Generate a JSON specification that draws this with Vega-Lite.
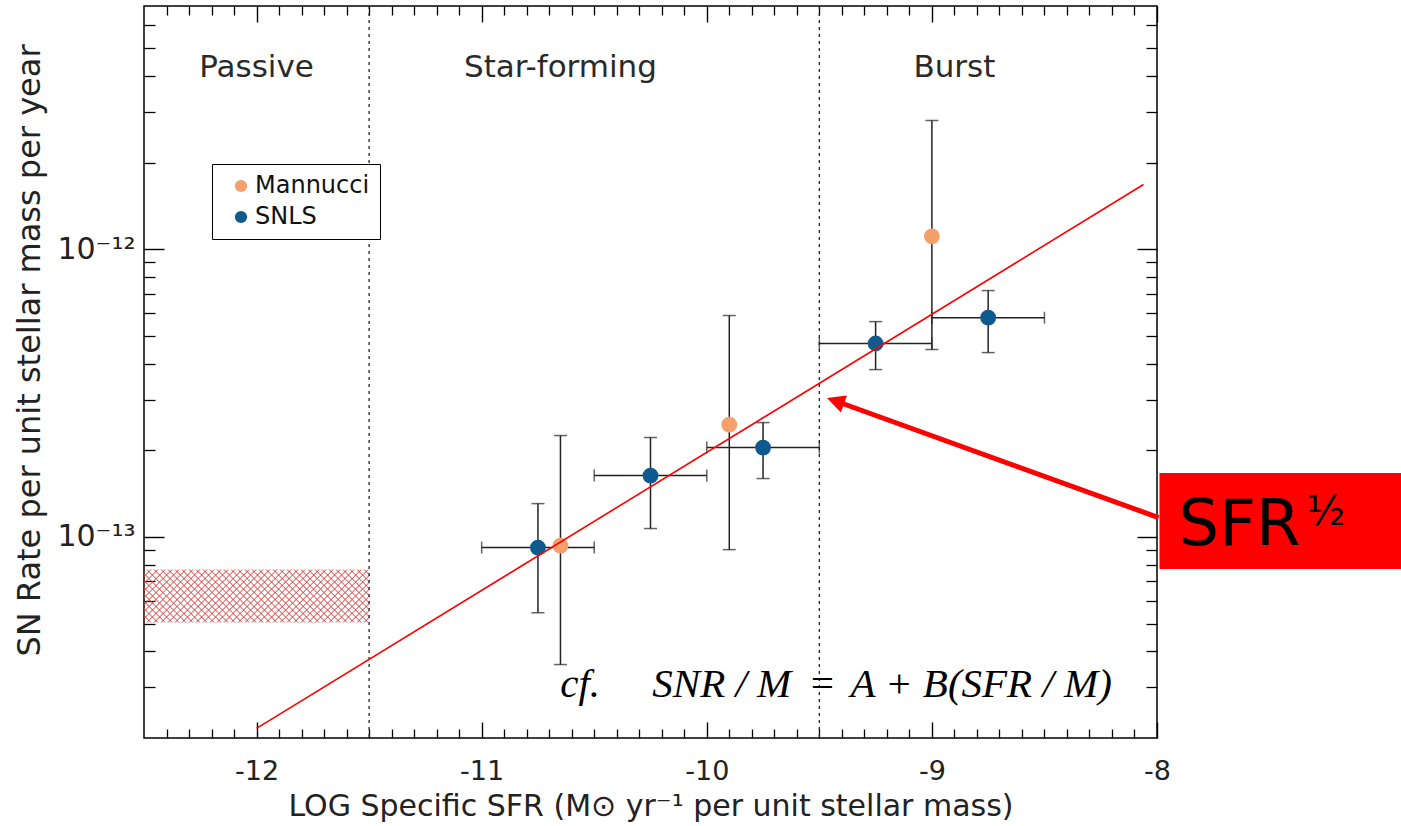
{
  "$schema": "https://vega.github.io/schema/vega-lite/v6.json",
  "width": 1013,
  "height": 732,
  "autosize": {"type": "none"},
  "padding": {"left": 144, "top": 6, "right": 244, "bottom": 88},
  "background": "white",
  "config": {
    "view": {"stroke": "#000", "strokeWidth": 1.5},
    "axis": {"grid": false},
    "font": "DejaVu Sans"
  },
  "datasets": {
    "pts": [
      {"series": "SNLS", "x": -10.75, "y": 9.18e-14, "ylo": 5.45e-14, "yhi": 1.305e-13, "xlo": -11.0, "xhi": -10.5},
      {"series": "SNLS", "x": -10.25, "y": 1.633e-13, "ylo": 1.069e-13, "yhi": 2.215e-13, "xlo": -10.5, "xhi": -10.0},
      {"series": "SNLS", "x": -9.75, "y": 2.044e-13, "ylo": 1.595e-13, "yhi": 2.496e-13, "xlo": -10.0, "xhi": -9.5},
      {"series": "SNLS", "x": -9.25, "y": 4.70e-13, "ylo": 3.815e-13, "yhi": 5.60e-13, "xlo": -9.5, "xhi": -9.0},
      {"series": "SNLS", "x": -8.75, "y": 5.78e-13, "ylo": 4.37e-13, "yhi": 7.18e-13, "xlo": -9.0, "xhi": -8.5},
      {"series": "Mannucci", "x": -10.65, "y": 9.33e-14, "ylo": 3.60e-14, "yhi": 2.25e-13, "xlo": null, "xhi": null},
      {"series": "Mannucci", "x": -9.9, "y": 2.457e-13, "ylo": 9.03e-14, "yhi": 5.88e-13, "xlo": null, "xhi": null},
      {"series": "Mannucci", "x": -9.0, "y": 1.108e-12, "ylo": 4.48e-13, "yhi": 2.80e-12, "xlo": null, "xhi": null}
    ],
    "band": [{"x1": -12.5, "x2": -11.5, "y1": 5.04e-14, "y2": 7.7e-14}]
  },
  "layer": [
    {
      "data": {"name": "band"},
      "mark": {"type": "rect", "fill": {"gradient": "linear", "x1": 0, "y1": 0, "x2": 1.1706, "y2": 0.2757, "stops": [
        {"offset": 0, "color": "#d94848"}, {"offset": 0.004, "color": "rgba(217,72,72,0)"},
        {"offset": 0.021, "color": "rgba(217,72,72,0)"}, {"offset": 0.025, "color": "#d94848"}, {"offset": 0.029, "color": "rgba(217,72,72,0)"},
        {"offset": 0.046, "color": "rgba(217,72,72,0)"}, {"offset": 0.050, "color": "#d94848"}, {"offset": 0.054, "color": "rgba(217,72,72,0)"},
        {"offset": 0.072, "color": "rgba(217,72,72,0)"}, {"offset": 0.076, "color": "#d94848"}, {"offset": 0.080, "color": "rgba(217,72,72,0)"},
        {"offset": 0.097, "color": "rgba(217,72,72,0)"}, {"offset": 0.101, "color": "#d94848"}, {"offset": 0.105, "color": "rgba(217,72,72,0)"},
        {"offset": 0.122, "color": "rgba(217,72,72,0)"}, {"offset": 0.126, "color": "#d94848"}, {"offset": 0.130, "color": "rgba(217,72,72,0)"},
        {"offset": 0.147, "color": "rgba(217,72,72,0)"}, {"offset": 0.151, "color": "#d94848"}, {"offset": 0.155, "color": "rgba(217,72,72,0)"},
        {"offset": 0.172, "color": "rgba(217,72,72,0)"}, {"offset": 0.176, "color": "#d94848"}, {"offset": 0.180, "color": "rgba(217,72,72,0)"},
        {"offset": 0.197, "color": "rgba(217,72,72,0)"}, {"offset": 0.201, "color": "#d94848"}, {"offset": 0.205, "color": "rgba(217,72,72,0)"},
        {"offset": 0.223, "color": "rgba(217,72,72,0)"}, {"offset": 0.227, "color": "#d94848"}, {"offset": 0.231, "color": "rgba(217,72,72,0)"},
        {"offset": 0.248, "color": "rgba(217,72,72,0)"}, {"offset": 0.252, "color": "#d94848"}, {"offset": 0.256, "color": "rgba(217,72,72,0)"},
        {"offset": 0.273, "color": "rgba(217,72,72,0)"}, {"offset": 0.277, "color": "#d94848"}, {"offset": 0.281, "color": "rgba(217,72,72,0)"},
        {"offset": 0.298, "color": "rgba(217,72,72,0)"}, {"offset": 0.302, "color": "#d94848"}, {"offset": 0.306, "color": "rgba(217,72,72,0)"},
        {"offset": 0.323, "color": "rgba(217,72,72,0)"}, {"offset": 0.327, "color": "#d94848"}, {"offset": 0.331, "color": "rgba(217,72,72,0)"},
        {"offset": 0.349, "color": "rgba(217,72,72,0)"}, {"offset": 0.353, "color": "#d94848"}, {"offset": 0.357, "color": "rgba(217,72,72,0)"},
        {"offset": 0.374, "color": "rgba(217,72,72,0)"}, {"offset": 0.378, "color": "#d94848"}, {"offset": 0.382, "color": "rgba(217,72,72,0)"},
        {"offset": 0.399, "color": "rgba(217,72,72,0)"}, {"offset": 0.403, "color": "#d94848"}, {"offset": 0.407, "color": "rgba(217,72,72,0)"},
        {"offset": 0.424, "color": "rgba(217,72,72,0)"}, {"offset": 0.428, "color": "#d94848"}, {"offset": 0.432, "color": "rgba(217,72,72,0)"},
        {"offset": 0.449, "color": "rgba(217,72,72,0)"}, {"offset": 0.453, "color": "#d94848"}, {"offset": 0.457, "color": "rgba(217,72,72,0)"},
        {"offset": 0.474, "color": "rgba(217,72,72,0)"}, {"offset": 0.478, "color": "#d94848"}, {"offset": 0.482, "color": "rgba(217,72,72,0)"},
        {"offset": 0.500, "color": "rgba(217,72,72,0)"}, {"offset": 0.504, "color": "#d94848"}, {"offset": 0.508, "color": "rgba(217,72,72,0)"},
        {"offset": 0.525, "color": "rgba(217,72,72,0)"}, {"offset": 0.529, "color": "#d94848"}, {"offset": 0.533, "color": "rgba(217,72,72,0)"},
        {"offset": 0.550, "color": "rgba(217,72,72,0)"}, {"offset": 0.554, "color": "#d94848"}, {"offset": 0.558, "color": "rgba(217,72,72,0)"},
        {"offset": 0.575, "color": "rgba(217,72,72,0)"}, {"offset": 0.579, "color": "#d94848"}, {"offset": 0.583, "color": "rgba(217,72,72,0)"},
        {"offset": 0.600, "color": "rgba(217,72,72,0)"}, {"offset": 0.604, "color": "#d94848"}, {"offset": 0.608, "color": "rgba(217,72,72,0)"},
        {"offset": 0.626, "color": "rgba(217,72,72,0)"}, {"offset": 0.630, "color": "#d94848"}, {"offset": 0.634, "color": "rgba(217,72,72,0)"},
        {"offset": 0.651, "color": "rgba(217,72,72,0)"}, {"offset": 0.655, "color": "#d94848"}, {"offset": 0.659, "color": "rgba(217,72,72,0)"},
        {"offset": 0.676, "color": "rgba(217,72,72,0)"}, {"offset": 0.680, "color": "#d94848"}, {"offset": 0.684, "color": "rgba(217,72,72,0)"},
        {"offset": 0.701, "color": "rgba(217,72,72,0)"}, {"offset": 0.705, "color": "#d94848"}, {"offset": 0.709, "color": "rgba(217,72,72,0)"},
        {"offset": 0.726, "color": "rgba(217,72,72,0)"}, {"offset": 0.730, "color": "#d94848"}, {"offset": 0.734, "color": "rgba(217,72,72,0)"},
        {"offset": 0.751, "color": "rgba(217,72,72,0)"}, {"offset": 0.755, "color": "#d94848"}, {"offset": 0.759, "color": "rgba(217,72,72,0)"},
        {"offset": 0.777, "color": "rgba(217,72,72,0)"}, {"offset": 0.781, "color": "#d94848"}, {"offset": 0.785, "color": "rgba(217,72,72,0)"},
        {"offset": 0.802, "color": "rgba(217,72,72,0)"}, {"offset": 0.806, "color": "#d94848"}, {"offset": 0.810, "color": "rgba(217,72,72,0)"},
        {"offset": 0.827, "color": "rgba(217,72,72,0)"}, {"offset": 0.831, "color": "#d94848"}, {"offset": 0.835, "color": "rgba(217,72,72,0)"},
        {"offset": 0.852, "color": "rgba(217,72,72,0)"}, {"offset": 0.856, "color": "#d94848"}, {"offset": 0.860, "color": "rgba(217,72,72,0)"},
        {"offset": 0.877, "color": "rgba(217,72,72,0)"}, {"offset": 0.881, "color": "#d94848"}, {"offset": 0.885, "color": "rgba(217,72,72,0)"},
        {"offset": 0.902, "color": "rgba(217,72,72,0)"}, {"offset": 0.906, "color": "#d94848"}, {"offset": 0.910, "color": "rgba(217,72,72,0)"},
        {"offset": 0.928, "color": "rgba(217,72,72,0)"}, {"offset": 0.932, "color": "#d94848"}, {"offset": 0.936, "color": "rgba(217,72,72,0)"},
        {"offset": 0.953, "color": "rgba(217,72,72,0)"}, {"offset": 0.957, "color": "#d94848"}, {"offset": 0.961, "color": "rgba(217,72,72,0)"},
        {"offset": 0.978, "color": "rgba(217,72,72,0)"}, {"offset": 0.982, "color": "#d94848"}, {"offset": 0.986, "color": "rgba(217,72,72,0)"},
        {"offset": 1, "color": "rgba(217,72,72,0)"}
      ]}},
      "encoding": {
        "x": {"field": "x1", "type": "quantitative",
          "scale": {"domain": [-12.5, -8], "nice": false, "zero": false},
          "axis": {"orient": "bottom", "values": [-12, -11, -10, -9, -8], "labelExpr": "'' + datum.value",
            "ticks": false, "domain": false, "grid": false, "labelPadding": 20, "labelFont": "DejaVu Sans",
            "labelFontSize": 27, "labelColor": "#222", "labelFlush": false, "labelOverlap": false,
            "title": "LOG Specific SFR (M⊙ yr⁻¹ per unit stellar mass)", "titleFont": "DejaVu Sans",
            "titleFontSize": 30, "titleFontWeight": "normal", "titleColor": "#222", "titleY": 77,
            "titleBaseline": "alphabetic"}},
        "x2": {"field": "x2"},
        "y": {"field": "y1", "type": "quantitative",
          "scale": {"type": "log", "domain": [2e-14, 7e-12], "nice": false},
          "axis": {"orient": "left", "values": [1e-13, 1e-12],
            "labelExpr": "datum.value < 5e-13 ? '10⁻¹³' : '10⁻¹²'",
            "ticks": false, "domain": false, "grid": false, "labelPadding": 9, "labelFont": "DejaVu Sans",
            "labelFontSize": 30, "labelColor": "#222", "labelOverlap": false,
            "title": "SN Rate per unit stellar mass per year", "titleFont": "DejaVu Sans",
            "titleFontSize": 32, "titleFontWeight": "normal", "titleColor": "#222",
            "titleX": -105, "titleY": 344, "titleAngle": -90, "titleBaseline": "alphabetic", "titleAlign": "center"}},
        "y2": {"field": "y2"}
      }
    },
    {
      "data": {"name": "band"},
      "mark": {"type": "rect", "fill": {"gradient": "linear", "x1": 0, "y1": 1, "x2": 1.1706, "y2": 0.7243, "stops": [
        {"offset": 0, "color": "#d94848"}, {"offset": 0.004, "color": "rgba(217,72,72,0)"},
        {"offset": 0.021, "color": "rgba(217,72,72,0)"}, {"offset": 0.025, "color": "#d94848"}, {"offset": 0.029, "color": "rgba(217,72,72,0)"},
        {"offset": 0.046, "color": "rgba(217,72,72,0)"}, {"offset": 0.050, "color": "#d94848"}, {"offset": 0.054, "color": "rgba(217,72,72,0)"},
        {"offset": 0.072, "color": "rgba(217,72,72,0)"}, {"offset": 0.076, "color": "#d94848"}, {"offset": 0.080, "color": "rgba(217,72,72,0)"},
        {"offset": 0.097, "color": "rgba(217,72,72,0)"}, {"offset": 0.101, "color": "#d94848"}, {"offset": 0.105, "color": "rgba(217,72,72,0)"},
        {"offset": 0.122, "color": "rgba(217,72,72,0)"}, {"offset": 0.126, "color": "#d94848"}, {"offset": 0.130, "color": "rgba(217,72,72,0)"},
        {"offset": 0.147, "color": "rgba(217,72,72,0)"}, {"offset": 0.151, "color": "#d94848"}, {"offset": 0.155, "color": "rgba(217,72,72,0)"},
        {"offset": 0.172, "color": "rgba(217,72,72,0)"}, {"offset": 0.176, "color": "#d94848"}, {"offset": 0.180, "color": "rgba(217,72,72,0)"},
        {"offset": 0.197, "color": "rgba(217,72,72,0)"}, {"offset": 0.201, "color": "#d94848"}, {"offset": 0.205, "color": "rgba(217,72,72,0)"},
        {"offset": 0.223, "color": "rgba(217,72,72,0)"}, {"offset": 0.227, "color": "#d94848"}, {"offset": 0.231, "color": "rgba(217,72,72,0)"},
        {"offset": 0.248, "color": "rgba(217,72,72,0)"}, {"offset": 0.252, "color": "#d94848"}, {"offset": 0.256, "color": "rgba(217,72,72,0)"},
        {"offset": 0.273, "color": "rgba(217,72,72,0)"}, {"offset": 0.277, "color": "#d94848"}, {"offset": 0.281, "color": "rgba(217,72,72,0)"},
        {"offset": 0.298, "color": "rgba(217,72,72,0)"}, {"offset": 0.302, "color": "#d94848"}, {"offset": 0.306, "color": "rgba(217,72,72,0)"},
        {"offset": 0.323, "color": "rgba(217,72,72,0)"}, {"offset": 0.327, "color": "#d94848"}, {"offset": 0.331, "color": "rgba(217,72,72,0)"},
        {"offset": 0.349, "color": "rgba(217,72,72,0)"}, {"offset": 0.353, "color": "#d94848"}, {"offset": 0.357, "color": "rgba(217,72,72,0)"},
        {"offset": 0.374, "color": "rgba(217,72,72,0)"}, {"offset": 0.378, "color": "#d94848"}, {"offset": 0.382, "color": "rgba(217,72,72,0)"},
        {"offset": 0.399, "color": "rgba(217,72,72,0)"}, {"offset": 0.403, "color": "#d94848"}, {"offset": 0.407, "color": "rgba(217,72,72,0)"},
        {"offset": 0.424, "color": "rgba(217,72,72,0)"}, {"offset": 0.428, "color": "#d94848"}, {"offset": 0.432, "color": "rgba(217,72,72,0)"},
        {"offset": 0.449, "color": "rgba(217,72,72,0)"}, {"offset": 0.453, "color": "#d94848"}, {"offset": 0.457, "color": "rgba(217,72,72,0)"},
        {"offset": 0.474, "color": "rgba(217,72,72,0)"}, {"offset": 0.478, "color": "#d94848"}, {"offset": 0.482, "color": "rgba(217,72,72,0)"},
        {"offset": 0.500, "color": "rgba(217,72,72,0)"}, {"offset": 0.504, "color": "#d94848"}, {"offset": 0.508, "color": "rgba(217,72,72,0)"},
        {"offset": 0.525, "color": "rgba(217,72,72,0)"}, {"offset": 0.529, "color": "#d94848"}, {"offset": 0.533, "color": "rgba(217,72,72,0)"},
        {"offset": 0.550, "color": "rgba(217,72,72,0)"}, {"offset": 0.554, "color": "#d94848"}, {"offset": 0.558, "color": "rgba(217,72,72,0)"},
        {"offset": 0.575, "color": "rgba(217,72,72,0)"}, {"offset": 0.579, "color": "#d94848"}, {"offset": 0.583, "color": "rgba(217,72,72,0)"},
        {"offset": 0.600, "color": "rgba(217,72,72,0)"}, {"offset": 0.604, "color": "#d94848"}, {"offset": 0.608, "color": "rgba(217,72,72,0)"},
        {"offset": 0.626, "color": "rgba(217,72,72,0)"}, {"offset": 0.630, "color": "#d94848"}, {"offset": 0.634, "color": "rgba(217,72,72,0)"},
        {"offset": 0.651, "color": "rgba(217,72,72,0)"}, {"offset": 0.655, "color": "#d94848"}, {"offset": 0.659, "color": "rgba(217,72,72,0)"},
        {"offset": 0.676, "color": "rgba(217,72,72,0)"}, {"offset": 0.680, "color": "#d94848"}, {"offset": 0.684, "color": "rgba(217,72,72,0)"},
        {"offset": 0.701, "color": "rgba(217,72,72,0)"}, {"offset": 0.705, "color": "#d94848"}, {"offset": 0.709, "color": "rgba(217,72,72,0)"},
        {"offset": 0.726, "color": "rgba(217,72,72,0)"}, {"offset": 0.730, "color": "#d94848"}, {"offset": 0.734, "color": "rgba(217,72,72,0)"},
        {"offset": 0.751, "color": "rgba(217,72,72,0)"}, {"offset": 0.755, "color": "#d94848"}, {"offset": 0.759, "color": "rgba(217,72,72,0)"},
        {"offset": 0.777, "color": "rgba(217,72,72,0)"}, {"offset": 0.781, "color": "#d94848"}, {"offset": 0.785, "color": "rgba(217,72,72,0)"},
        {"offset": 0.802, "color": "rgba(217,72,72,0)"}, {"offset": 0.806, "color": "#d94848"}, {"offset": 0.810, "color": "rgba(217,72,72,0)"},
        {"offset": 0.827, "color": "rgba(217,72,72,0)"}, {"offset": 0.831, "color": "#d94848"}, {"offset": 0.835, "color": "rgba(217,72,72,0)"},
        {"offset": 0.852, "color": "rgba(217,72,72,0)"}, {"offset": 0.856, "color": "#d94848"}, {"offset": 0.860, "color": "rgba(217,72,72,0)"},
        {"offset": 0.877, "color": "rgba(217,72,72,0)"}, {"offset": 0.881, "color": "#d94848"}, {"offset": 0.885, "color": "rgba(217,72,72,0)"},
        {"offset": 0.902, "color": "rgba(217,72,72,0)"}, {"offset": 0.906, "color": "#d94848"}, {"offset": 0.910, "color": "rgba(217,72,72,0)"},
        {"offset": 0.928, "color": "rgba(217,72,72,0)"}, {"offset": 0.932, "color": "#d94848"}, {"offset": 0.936, "color": "rgba(217,72,72,0)"},
        {"offset": 0.953, "color": "rgba(217,72,72,0)"}, {"offset": 0.957, "color": "#d94848"}, {"offset": 0.961, "color": "rgba(217,72,72,0)"},
        {"offset": 0.978, "color": "rgba(217,72,72,0)"}, {"offset": 0.982, "color": "#d94848"}, {"offset": 0.986, "color": "rgba(217,72,72,0)"},
        {"offset": 1, "color": "rgba(217,72,72,0)"}
      ]}},
      "encoding": {
        "x": {"field": "x1", "type": "quantitative",
          "scale": {"domain": [-12.5, -8], "nice": false, "zero": false}, "axis": null},
        "x2": {"field": "x2"},
        "y": {"field": "y1", "type": "quantitative",
          "scale": {"type": "log", "domain": [2e-14, 7e-12], "nice": false}, "axis": null},
        "y2": {"field": "y2"}
      }
    },
    {
      "data": {"values": [{"x": -11.5}, {"x": -9.5}]},
      "mark": {"type": "rule", "color": "#222", "strokeWidth": 1.3, "strokeDash": [3, 4]},
      "encoding": {
        "x": {"field": "x", "type": "quantitative",
          "scale": {"domain": [-12.5, -8], "nice": false, "zero": false},
          "axis": {"orient": "bottom", "values": [-12, -11, -10, -9, -8], "labels": false, "domain": false,
            "ticks": true, "tickSize": -16, "tickColor": "#000", "tickWidth": 1.4, "title": null, "grid": false}}
      }
    },
    {
      "data": {"name": "pts"},
      "mark": {"type": "rule", "color": "#222", "strokeWidth": 1.5},
      "encoding": {
        "x": {"field": "x", "type": "quantitative",
          "scale": {"domain": [-12.5, -8], "nice": false, "zero": false},
          "axis": {"orient": "bottom", "values": [-12.4,-12.3,-12.2,-12.1,-11.9,-11.8,-11.7,-11.6,-11.5,-11.4,-11.3,-11.2,-11.1,-10.9,-10.8,-10.7,-10.6,-10.5,-10.4,-10.3,-10.2,-10.1,-9.9,-9.8,-9.7,-9.6,-9.5,-9.4,-9.3,-9.2,-9.1,-8.9,-8.8,-8.7,-8.6,-8.5,-8.4,-8.3,-8.2,-8.1],
            "labels": false, "domain": false, "ticks": true, "tickSize": -9, "tickColor": "#000", "tickWidth": 1.3, "title": null, "grid": false}},
        "y": {"field": "ylo", "type": "quantitative",
          "scale": {"type": "log", "domain": [2e-14, 7e-12], "nice": false},
          "axis": {"orient": "left", "values": [1e-13, 1e-12], "labels": false, "domain": false,
            "ticks": true, "tickSize": -20, "tickColor": "#000", "tickWidth": 1.4, "title": null, "grid": false}},
        "y2": {"field": "yhi"}
      }
    },
    {
      "data": {"name": "pts"},
      "transform": [{"filter": "datum.xlo != null"}],
      "mark": {"type": "rule", "color": "#222", "strokeWidth": 1.5},
      "encoding": {
        "x": {"field": "xlo", "type": "quantitative",
          "scale": {"domain": [-12.5, -8], "nice": false, "zero": false},
          "axis": {"orient": "top", "values": [-12, -11, -10, -9, -8], "labels": false, "domain": false,
            "ticks": true, "tickSize": -16, "tickColor": "#000", "tickWidth": 1.4, "title": null, "grid": false}},
        "x2": {"field": "xhi"},
        "y": {"field": "y", "type": "quantitative",
          "scale": {"type": "log", "domain": [2e-14, 7e-12], "nice": false},
          "axis": {"orient": "left", "values": [3e-14,4e-14,5e-14,6e-14,7e-14,8e-14,9e-14,2e-13,3e-13,4e-13,5e-13,6e-13,7e-13,8e-13,9e-13,2e-12,3e-12,4e-12,5e-12,6e-12],
            "labels": false, "domain": false, "ticks": true, "tickSize": -11, "tickColor": "#000", "tickWidth": 1.3, "title": null, "grid": false}}
      }
    },
    {
      "data": {"name": "pts"},
      "transform": [{"fold": ["ylo", "yhi"], "as": ["k", "yc"]}],
      "mark": {"type": "tick", "orient": "horizontal", "size": 13, "thickness": 1.5, "color": "#222"},
      "encoding": {
        "x": {"field": "x", "type": "quantitative",
          "scale": {"domain": [-12.5, -8], "nice": false, "zero": false},
          "axis": {"orient": "top", "values": [-12.4,-12.3,-12.2,-12.1,-11.9,-11.8,-11.7,-11.6,-11.5,-11.4,-11.3,-11.2,-11.1,-10.9,-10.8,-10.7,-10.6,-10.5,-10.4,-10.3,-10.2,-10.1,-9.9,-9.8,-9.7,-9.6,-9.5,-9.4,-9.3,-9.2,-9.1,-8.9,-8.8,-8.7,-8.6,-8.5,-8.4,-8.3,-8.2,-8.1],
            "labels": false, "domain": false, "ticks": true, "tickSize": -9, "tickColor": "#000", "tickWidth": 1.3, "title": null, "grid": false}},
        "y": {"field": "yc", "type": "quantitative",
          "scale": {"type": "log", "domain": [2e-14, 7e-12], "nice": false},
          "axis": {"orient": "right", "values": [1e-13, 1e-12], "labels": false, "domain": false,
            "ticks": true, "tickSize": -20, "tickColor": "#000", "tickWidth": 1.4, "title": null, "grid": false}}
      }
    },
    {
      "data": {"name": "pts"},
      "transform": [{"filter": "datum.xlo != null"}, {"fold": ["xlo", "xhi"], "as": ["k", "xc"]}],
      "mark": {"type": "tick", "orient": "vertical", "size": 12, "thickness": 1.5, "color": "#222"},
      "encoding": {
        "x": {"field": "xc", "type": "quantitative",
          "scale": {"domain": [-12.5, -8], "nice": false, "zero": false}, "axis": null},
        "y": {"field": "y", "type": "quantitative",
          "scale": {"type": "log", "domain": [2e-14, 7e-12], "nice": false},
          "axis": {"orient": "right", "values": [3e-14,4e-14,5e-14,6e-14,7e-14,8e-14,9e-14,2e-13,3e-13,4e-13,5e-13,6e-13,7e-13,8e-13,9e-13,2e-12,3e-12,4e-12,5e-12,6e-12],
            "labels": false, "domain": false, "ticks": true, "tickSize": -11, "tickColor": "#000", "tickWidth": 1.3, "title": null, "grid": false}}
      }
    },
    {
      "data": {"name": "pts"},
      "mark": {"type": "point", "shape": "circle", "filled": true, "size": 250, "opacity": 1},
      "encoding": {
        "x": {"field": "x", "type": "quantitative",
          "scale": {"domain": [-12.5, -8], "nice": false, "zero": false}, "axis": null},
        "y": {"field": "y", "type": "quantitative",
          "scale": {"type": "log", "domain": [2e-14, 7e-12], "nice": false}, "axis": null},
        "color": {"field": "series", "type": "nominal",
          "scale": {"domain": ["Mannucci", "SNLS"], "range": ["#f5a06a", "#0e5a8e"]},
          "legend": {"orient": "none", "legendX": 68, "legendY": 158, "title": null,
            "strokeColor": "#000", "fillColor": "#fff", "padding": 10,
            "labelFont": "DejaVu Sans", "labelFontSize": 24, "labelColor": "#111",
            "symbolType": "circle", "symbolSize": 150, "symbolStrokeWidth": 0,
            "symbolOffset": 7, "labelOffset": 2, "rowPadding": 7}}
      }
    },
    {
      "data": {"values": [{"x": -12.0, "y": 2.16e-14}, {"x": -8.06, "y": 1.677e-12}]},
      "mark": {"type": "line", "color": "#ff0000", "strokeWidth": 1.6},
      "encoding": {
        "x": {"field": "x", "type": "quantitative",
          "scale": {"domain": [-12.5, -8], "nice": false, "zero": false}, "axis": null},
        "y": {"field": "y", "type": "quantitative",
          "scale": {"type": "log", "domain": [2e-14, 7e-12], "nice": false}, "axis": null}
      }
    },
    {
      "data": {"values": [{"label": "Passive", "x": -12.0}, {"label": "Star-forming", "x": -10.65}, {"label": "Burst", "x": -8.9}]},
      "mark": {"type": "text", "align": "center", "baseline": "alphabetic", "font": "DejaVu Sans", "fontSize": 31, "color": "#2a2a2a"},
      "encoding": {
        "x": {"field": "x", "type": "quantitative",
          "scale": {"domain": [-12.5, -8], "nice": false, "zero": false}, "axis": null},
        "y": {"datum": 3.98e-12, "type": "quantitative",
          "scale": {"type": "log", "domain": [2e-14, 7e-12], "nice": false}, "axis": null},
        "text": {"field": "label"}
      }
    },
    {
      "data": {"values": [{"t": "cf.", "x": -10.651}, {"t": "SNR / M", "x": -10.242}, {"t": "=", "x": -9.549}, {"t": "A + B(SFR / M)", "x": -9.362}]},
      "mark": {"type": "text", "align": "left", "baseline": "alphabetic", "font": "Liberation Serif", "fontStyle": "italic", "fontSize": 41, "color": "#000"},
      "encoding": {
        "x": {"field": "x", "type": "quantitative",
          "scale": {"domain": [-12.5, -8], "nice": false, "zero": false}, "axis": null},
        "y": {"datum": 2.786e-14, "type": "quantitative",
          "scale": {"type": "log", "domain": [2e-14, 7e-12], "nice": false}, "axis": null},
        "text": {"field": "t"}
      }
    },
    {
      "data": {"values": [{"x1": -7.993, "y1": 1.167e-13, "x2": -9.403, "y2": 2.92e-13}]},
      "mark": {"type": "rule", "color": "#ff0000", "strokeWidth": 5},
      "encoding": {
        "x": {"field": "x1", "type": "quantitative",
          "scale": {"domain": [-12.5, -8], "nice": false, "zero": false}, "axis": null},
        "x2": {"field": "x2"},
        "y": {"field": "y1", "type": "quantitative",
          "scale": {"type": "log", "domain": [2e-14, 7e-12], "nice": false}, "axis": null},
        "y2": {"field": "y2"}
      }
    },
    {
      "data": {"values": [{"x": -9.466, "y": 3.04e-13}]},
      "mark": {"type": "point", "shape": "M 0 0 L 1 -0.5 L 1 0.5 Z", "filled": true, "size": 1296, "angle": 19.9, "color": "#ff0000", "opacity": 1},
      "encoding": {
        "x": {"field": "x", "type": "quantitative",
          "scale": {"domain": [-12.5, -8], "nice": false, "zero": false}, "axis": null},
        "y": {"field": "y", "type": "quantitative",
          "scale": {"type": "log", "domain": [2e-14, 7e-12], "nice": false}, "axis": null}
      }
    },
    {
      "data": {"values": [{"x1": -7.989, "x2": -6.9, "y1": 7.74e-14, "y2": 1.669e-13}]},
      "mark": {"type": "rect", "fill": "#ff0000"},
      "encoding": {
        "x": {"field": "x1", "type": "quantitative",
          "scale": {"domain": [-12.5, -8], "nice": false, "zero": false}, "axis": null},
        "x2": {"field": "x2"},
        "y": {"field": "y1", "type": "quantitative",
          "scale": {"type": "log", "domain": [2e-14, 7e-12], "nice": false}, "axis": null},
        "y2": {"field": "y2"}
      }
    },
    {
      "data": {"values": [{"t": "SFR", "x": -7.904}]},
      "mark": {"type": "text", "align": "left", "baseline": "alphabetic", "font": "DejaVu Sans", "fontSize": 64, "color": "#000"},
      "encoding": {
        "x": {"field": "x", "type": "quantitative",
          "scale": {"domain": [-12.5, -8], "nice": false, "zero": false}, "axis": null},
        "y": {"datum": 9.40e-14, "type": "quantitative",
          "scale": {"type": "log", "domain": [2e-14, 7e-12], "nice": false}, "axis": null},
        "text": {"field": "t"}
      }
    },
    {
      "data": {"values": [{"t": "½", "x": -7.336}]},
      "mark": {"type": "text", "align": "left", "baseline": "alphabetic", "font": "DejaVu Sans", "fontSize": 40, "color": "#000"},
      "encoding": {
        "x": {"field": "x", "type": "quantitative",
          "scale": {"domain": [-12.5, -8], "nice": false, "zero": false}, "axis": null},
        "y": {"datum": 1.10e-13, "type": "quantitative",
          "scale": {"type": "log", "domain": [2e-14, 7e-12], "nice": false}, "axis": null},
        "text": {"field": "t"}
      }
    }
  ],
  "resolve": {"axis": {"x": "independent", "y": "independent"}}
}
